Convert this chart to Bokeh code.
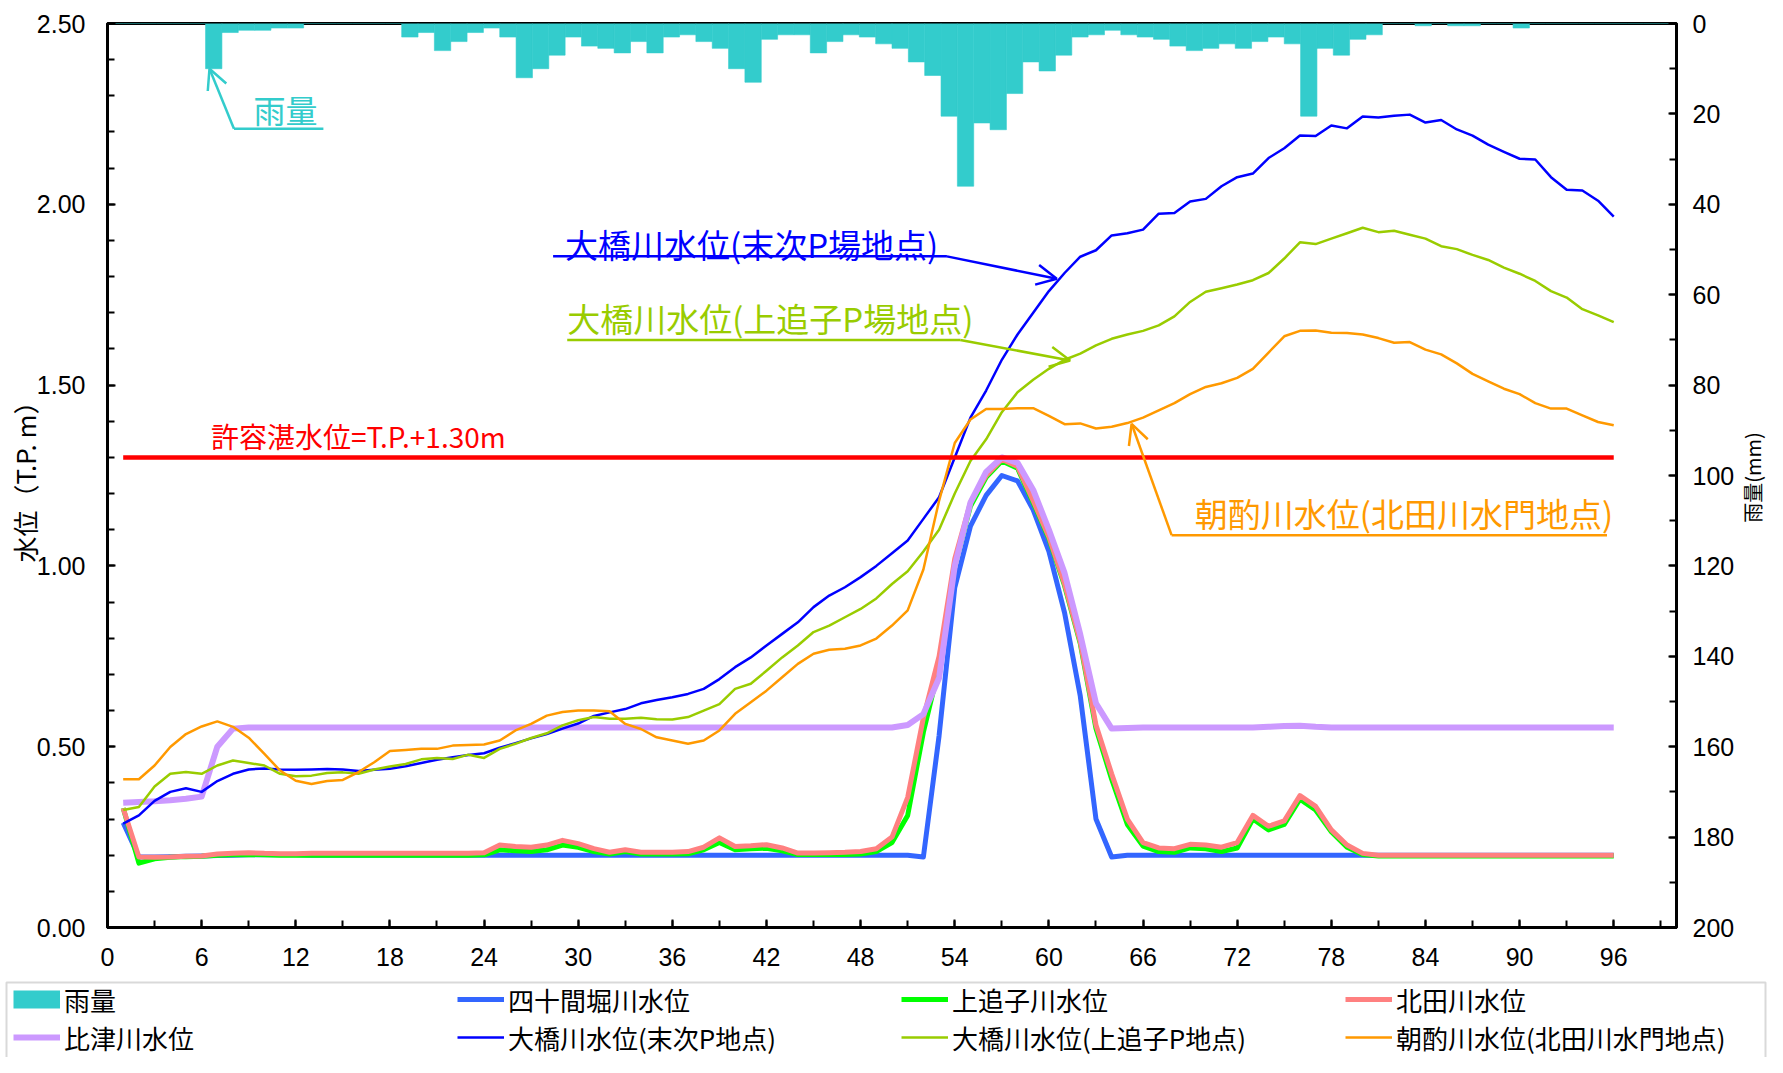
from bokeh.plotting import figure
from bokeh.models import (Range1d, LinearAxis, FixedTicker, PrintfTickFormatter,
                          Legend, LegendItem, Label, Arrow, OpenHead, BoxAnnotation)
from bokeh.layouts import column, row
from bokeh.embed import file_html
from bokeh.resources import INLINE

# ---------------- data ----------------
hours = list(range(1, 97))

rain_mm = [
    0, 0, 0, 0, 0, 0, 10, 2, 1.5, 1.5,
    1, 1, 0, 0, 0, 0, 0, 0, 3, 2,
    6, 4, 2, 1, 3, 12, 10, 7, 3, 5,
    5.5, 6.5, 4, 6.5, 3, 2.5, 4, 5.5, 10, 13,
    3.5, 2.5, 2.5, 6.5, 4, 2.5, 3, 4.5, 5.5, 8.5,
    11.5, 20.5, 36, 22, 23.5, 15.5, 8.5, 10.5, 7, 3,
    2.5, 1.5, 2.5, 3, 3.5, 5, 6, 5.5, 4.5, 5.5,
    4, 3, 4.5, 20.5, 5.5, 7, 3.5, 2.5, 0, 0,
    0.5, 0, 0.5, 0.5, 0, 0, 1, 0, 0, 0,
    0, 0, 0, 0, 0, 0]

shijukenbori = [
    0.29, 0.195, 0.195, 0.196, 0.197, 0.198, 0.199, 0.20, 0.201, 0.201,
    0.201, 0.201, 0.20, 0.20, 0.20, 0.20, 0.20, 0.20, 0.20, 0.20,
    0.20, 0.20, 0.20, 0.20, 0.20, 0.20, 0.20, 0.20, 0.20, 0.20,
    0.20, 0.20, 0.20, 0.20, 0.20, 0.20, 0.20, 0.20, 0.20, 0.20,
    0.20, 0.20, 0.20, 0.20, 0.20, 0.20, 0.20, 0.20, 0.20, 0.20,
    0.20, 0.195, 0.53, 0.94, 1.11, 1.195, 1.25, 1.235, 1.155, 1.04,
    0.87, 0.64, 0.30, 0.195, 0.20, 0.20, 0.20, 0.20, 0.20, 0.20,
    0.20, 0.20, 0.20, 0.20, 0.20, 0.20, 0.20, 0.20, 0.20, 0.20,
    0.20, 0.20, 0.20, 0.20, 0.20, 0.20, 0.20, 0.20, 0.20, 0.20,
    0.20, 0.20, 0.20, 0.20, 0.20, 0.20]

kamioikogawa = [
    0.33, 0.178, 0.19, 0.194, 0.196, 0.197, 0.20, 0.201, 0.202, 0.201,
    0.20, 0.20, 0.20, 0.20, 0.20, 0.20, 0.20, 0.20, 0.20, 0.20,
    0.20, 0.20, 0.20, 0.201, 0.215, 0.212, 0.21, 0.215, 0.228, 0.222,
    0.21, 0.203, 0.21, 0.203, 0.203, 0.203, 0.204, 0.215, 0.235, 0.215,
    0.218, 0.219, 0.212, 0.202, 0.202, 0.202, 0.202, 0.203, 0.21, 0.235,
    0.31, 0.54, 0.72, 1.00, 1.165, 1.245, 1.29, 1.27, 1.175, 1.075,
    0.945, 0.785, 0.55, 0.41, 0.285, 0.225, 0.21, 0.208, 0.22, 0.218,
    0.21, 0.22, 0.30, 0.27, 0.285, 0.355, 0.325, 0.265, 0.222, 0.202,
    0.198, 0.198, 0.198, 0.198, 0.198, 0.198, 0.198, 0.198, 0.198, 0.198,
    0.198, 0.198, 0.198, 0.198, 0.198, 0.198]

kitadagawa = [
    0.33, 0.195, 0.194, 0.195, 0.197, 0.198, 0.203, 0.205, 0.207, 0.205,
    0.204, 0.204, 0.205, 0.205, 0.205, 0.205, 0.205, 0.205, 0.205, 0.205,
    0.205, 0.205, 0.205, 0.207, 0.228, 0.224, 0.222, 0.228, 0.241, 0.232,
    0.218, 0.208, 0.215, 0.208, 0.208, 0.208, 0.21, 0.222, 0.248, 0.224,
    0.226, 0.229, 0.22, 0.206, 0.206, 0.207, 0.208, 0.21, 0.218, 0.25,
    0.36, 0.58, 0.75, 1.02, 1.175, 1.25, 1.295, 1.275, 1.18, 1.08,
    0.95, 0.79, 0.56, 0.425, 0.30, 0.235, 0.22, 0.218, 0.23, 0.228,
    0.222, 0.235, 0.31, 0.28, 0.295, 0.365, 0.335, 0.27, 0.228, 0.205,
    0.20, 0.20, 0.20, 0.20, 0.20, 0.20, 0.20, 0.20, 0.20, 0.20,
    0.20, 0.20, 0.20, 0.20, 0.20, 0.20]

hitsugawa = [
    0.345, 0.347, 0.349, 0.352, 0.356, 0.362, 0.50, 0.55, 0.553, 0.553,
    0.553, 0.553, 0.553, 0.553, 0.553, 0.553, 0.553, 0.553, 0.553, 0.553,
    0.553, 0.553, 0.553, 0.553, 0.553, 0.553, 0.553, 0.553, 0.553, 0.553,
    0.553, 0.553, 0.553, 0.553, 0.553, 0.553, 0.553, 0.553, 0.553, 0.553,
    0.553, 0.553, 0.553, 0.553, 0.553, 0.553, 0.553, 0.553, 0.553, 0.553,
    0.56, 0.59, 0.69, 1.00, 1.175, 1.26, 1.30, 1.285, 1.21, 1.10,
    0.98, 0.81, 0.62, 0.55, 0.552, 0.553, 0.553, 0.553, 0.553, 0.553,
    0.553, 0.553, 0.553, 0.555, 0.557, 0.558, 0.555, 0.553, 0.553, 0.553,
    0.553, 0.553, 0.553, 0.553, 0.553, 0.553, 0.553, 0.553, 0.553, 0.553,
    0.553, 0.553, 0.553, 0.553, 0.553, 0.553]

ohashi_suetsugu = [
    0.287, 0.31, 0.35, 0.375, 0.385, 0.375, 0.405, 0.425, 0.437, 0.44,
    0.437, 0.436, 0.437, 0.438, 0.437, 0.433, 0.436, 0.439, 0.446, 0.455,
    0.464, 0.471, 0.477, 0.482, 0.497, 0.51, 0.523, 0.535, 0.55, 0.564,
    0.585, 0.595, 0.604, 0.62, 0.629, 0.637, 0.646, 0.66, 0.687, 0.72,
    0.747, 0.78, 0.812, 0.844, 0.886, 0.918, 0.941, 0.969, 1.0, 1.035,
    1.07, 1.13, 1.19, 1.30, 1.41, 1.485, 1.57, 1.64, 1.70, 1.76,
    1.81, 1.855, 1.873, 1.914, 1.92, 1.93, 1.974, 1.976, 2.008, 2.015,
    2.05, 2.075, 2.085, 2.128, 2.155, 2.19, 2.189, 2.218, 2.21, 2.243,
    2.24, 2.245, 2.248, 2.226, 2.233, 2.207, 2.19, 2.165, 2.145, 2.126,
    2.124, 2.075, 2.04, 2.038, 2.01, 1.966]

ohashi_kamioiko = [
    0.325, 0.333, 0.39, 0.425, 0.43, 0.425, 0.448, 0.462, 0.455, 0.448,
    0.425, 0.418, 0.42, 0.427, 0.429, 0.425, 0.437, 0.445, 0.452, 0.465,
    0.469, 0.466, 0.478, 0.469, 0.494, 0.508, 0.524, 0.537, 0.559, 0.573,
    0.582, 0.577, 0.577, 0.58, 0.576, 0.575, 0.582, 0.60, 0.618, 0.66,
    0.674, 0.71, 0.747, 0.78, 0.817, 0.835, 0.858, 0.881, 0.91, 0.95,
    0.985, 1.04, 1.10, 1.20, 1.29, 1.35, 1.425, 1.48, 1.515, 1.545,
    1.57, 1.587, 1.61, 1.628, 1.64, 1.65, 1.665, 1.69, 1.73, 1.758,
    1.768, 1.778, 1.79, 1.81, 1.85, 1.895, 1.89, 1.905, 1.92, 1.935,
    1.923, 1.927, 1.916, 1.905, 1.884, 1.876, 1.86, 1.846, 1.825, 1.808,
    1.788, 1.76, 1.742, 1.71, 1.693, 1.674]

asakumi = [
    0.41, 0.41, 0.448, 0.499, 0.535, 0.556, 0.57, 0.555, 0.525, 0.48,
    0.434, 0.406, 0.397, 0.405, 0.408, 0.43, 0.457, 0.488, 0.491, 0.494,
    0.494, 0.503, 0.505, 0.506, 0.517, 0.545, 0.563, 0.586, 0.596, 0.60,
    0.60, 0.598, 0.563, 0.549, 0.526, 0.517, 0.508, 0.517, 0.545, 0.591,
    0.623, 0.655, 0.692, 0.729, 0.757, 0.768, 0.771, 0.78, 0.799, 0.835,
    0.877, 0.99, 1.18, 1.34, 1.405, 1.434, 1.434, 1.436, 1.436, 1.415,
    1.392, 1.394, 1.38, 1.385, 1.395, 1.41, 1.43, 1.45, 1.475, 1.495,
    1.505, 1.52, 1.545, 1.59, 1.635, 1.65, 1.651, 1.645, 1.644, 1.64,
    1.63, 1.617, 1.619, 1.598, 1.585, 1.56, 1.531, 1.51, 1.49, 1.475,
    1.45, 1.435, 1.435, 1.416, 1.398, 1.389]

limit_hours = [1, 96]
limit_level = 1.30

x_major = list(range(0, 97, 6))
x_minor = list(range(0, 100, 3))
y_major = [0, 0.5, 1.0, 1.5, 2.0, 2.5]
y_minor = [round(i * 0.1, 1) for i in range(26)]
rain_major = list(range(0, 201, 20))
rain_minor = list(range(0, 201, 10))

series_names = ["雨量", "四十間堀川水位", "上追子川水位", "北田川水位",
                "比津川水位", "大橋川水位(末次P地点)", "大橋川水位(上追子P地点)",
                "朝酌川水位(北田川水門地点)"]

CJK = "Noto Sans CJK JP"
NUM = "Liberation Sans"
TEAL = "#33CCCC"
line_styles = [("#3366FF", 5), ("#00FF00", 5), ("#FF8080", 5), ("#CC99FF", 6),
               ("#0000FF", 2.5), ("#99CC00", 2.5), ("#FF9900", 2.5)]

# ---------------- layout sizes ----------------
TOTAL_W, TOTAL_H = 1767, 1057
RT_W = 30                      # strip for the right axis title
MAIN_W = TOTAL_W - RT_W
MAIN_H = 979

# ---------------- main figure ----------------
p = figure(width=MAIN_W, height=MAIN_H, x_range=Range1d(0, 100), y_range=Range1d(0, 2.5),
           output_backend="svg", toolbar_location=None,
           min_border_left=107, min_border_right=MAIN_W - 1677, min_border_top=23,
           min_border_bottom=MAIN_H - 927)
p.title.visible = False
p.background_fill_color = "white"
p.border_fill_color = "white"
p.xgrid.visible = False
p.ygrid.visible = False
p.outline_line_color = "black"
p.outline_line_width = 3

p.extra_x_ranges = {"cat": Range1d(0, 96)}
p.extra_y_ranges = {"rain": Range1d(200, 0)}

raxis = LinearAxis(y_range_name="rain")
p.add_layout(raxis, "right")

p.xaxis[0].ticker = FixedTicker(ticks=x_major, minor_ticks=x_minor)
p.yaxis[0].ticker = FixedTicker(ticks=y_major, minor_ticks=y_minor)
p.yaxis[0].formatter = PrintfTickFormatter(format="%.2f")
raxis.ticker = FixedTicker(ticks=rain_major, minor_ticks=rain_minor)

for ax in [p.xaxis[0], p.yaxis[0], raxis]:
    ax.axis_line_width = 3
    ax.axis_line_color = "black"
    ax.major_tick_in = 8
    ax.major_tick_out = 0
    ax.minor_tick_in = 7
    ax.minor_tick_out = 0
    ax.major_tick_line_width = 2
    ax.minor_tick_line_width = 2
    ax.major_tick_line_color = "black"
    ax.minor_tick_line_color = "black"
    ax.major_label_text_font = NUM
    ax.major_label_text_font_size = "25px"
    ax.major_label_text_color = "black"
    ax.axis_label_text_font = CJK
    ax.axis_label_text_font_style = "normal"
    ax.axis_label_text_color = "black"
p.yaxis[0].major_label_standoff = 22
p.xaxis[0].major_label_standoff = 20
raxis.major_label_standoff = 16

p.yaxis[0].axis_label = "水位（T.P. m）"
p.yaxis[0].axis_label_text_font_size = "26px"
p.yaxis[0].axis_label_standoff = -9

# ---------------- marks ----------------
bar_x = [h - 0.5 for h in hours]
bars = p.vbar(x=bar_x, width=1, top=0, bottom=rain_mm, x_range_name="cat", y_range_name="rain",
              fill_color=TEAL, line_color=TEAL, line_width=0.6)

level_series = [shijukenbori, kamioikogawa, kitadagawa, hitsugawa,
                ohashi_suetsugu, ohashi_kamioiko, asakumi]
for ys, (col, lw) in zip(level_series, line_styles):
    p.line(hours, ys, line_color=col, line_width=lw, line_join="round")
p.line(limit_hours, [limit_level, limit_level], line_color="#FF0000", line_width=4.5)

# ---------------- annotations ----------------
def callout(tx, ty, text, color, ux0, ux1, uy, tipx, tipy, size="33px", arrow_from_left=False):
    p.add_layout(Label(x=tx, y=ty, text=text, text_color=color, text_font=CJK,
                       text_font_size=size, text_align="left", text_baseline="middle"))
    p.add_layout(Arrow(end=None, x_start=ux0, y_start=uy, x_end=ux1, y_end=uy,
                       line_color=color, line_width=2.5))
    sx = ux0 if arrow_from_left else ux1
    p.add_layout(Arrow(end=OpenHead(size=20, line_color=color, line_width=2.5),
                       x_start=sx, y_start=uy, x_end=tipx, y_end=tipy,
                       line_color=color, line_width=2.5))

callout(9.3, 2.263, "雨量", TEAL, 8.06, 13.76, 2.209, 6.5, 2.375, size="32px", arrow_from_left=True)
callout(29.16, 1.891, "大橋川水位(末次P場地点)", "#0000FF", 28.4, 53.5, 1.856, 60.5, 1.794)
callout(29.3, 1.686, "大橋川水位(上追子P場地点)", "#99CC00", 29.3, 54.35, 1.625, 61.35, 1.568)
callout(69.3, 1.145, "朝酌川水位(北田川水門地点)", "#FF9900", 67.82, 95.57, 1.085, 65.27, 1.393,
        arrow_from_left=True)

p.add_layout(Label(x=6.6, y=1.359, text="許容湛水位=T.P.+1.30m", text_color="#FF0000",
                   text_font=CJK, text_font_size="28px", text_align="left", text_baseline="middle"))

# ---------------- right axis title strip ----------------
rt = figure(width=RT_W, height=MAIN_H, x_range=Range1d(0, RT_W), y_range=Range1d(0, MAIN_H),
            x_axis_location=None, y_axis_location=None, output_backend="svg",
            toolbar_location=None, min_border=0)
rt.title.visible = False
rt.outline_line_color = None
rt.xgrid.visible = False
rt.ygrid.visible = False
rt.add_layout(Label(x=RT_W / 2, y=MAIN_H - 477, text="雨量(mm)", angle=90, angle_units="deg",
                    text_font=CJK, text_font_size="20px", text_align="center",
                    text_baseline="middle", text_color="black"))

# ---------------- legend strip ----------------
LH = TOTAL_H - MAIN_H
lg = figure(width=TOTAL_W, height=LH, x_range=Range1d(0, TOTAL_W), y_range=Range1d(0, LH),
            x_axis_location=None, y_axis_location=None, output_backend="svg",
            toolbar_location=None, min_border=0)
lg.title.visible = False
lg.outline_line_color = None
lg.xgrid.visible = False
lg.ygrid.visible = False
for fig in (p, rt, lg):
    if "frame_align" in fig.properties():
        fig.frame_align = False

lg.add_layout(BoxAnnotation(left=6, right=TOTAL_W - 2, top=LH - 3, bottom=-30,
                            fill_color=None, fill_alpha=0, line_color="#808080", line_width=2))

nan = float("nan")
swatches = [lg.line(x=[nan], y=[nan], line_color=TEAL, line_width=18, line_cap="butt")]
for col, lw in line_styles:
    swatches.append(lg.line(x=[nan], y=[nan], line_color=col, line_width=lw))
items = [LegendItem(label=n, renderers=[r]) for n, r in zip(series_names, swatches)]

ITEM_H = 44
for row_items, vy in [(items[:4], 36), (items[4:], -2)]:
    lgd = Legend(items=row_items, orientation="horizontal", location=(13, vy),
                 label_text_font=CJK, label_text_font_size="26px", label_text_color="black",
                 glyph_width=47, glyph_height=ITEM_H, label_height=ITEM_H,
                 label_standoff=4, label_width=389, spacing=4, padding=0, margin=0,
                 border_line_color=None, background_fill_alpha=0.0)
    lg.add_layout(lgd, "center")

layout = column(row(p, rt), lg)
open("out.html", "w").write(file_html(layout, INLINE))
